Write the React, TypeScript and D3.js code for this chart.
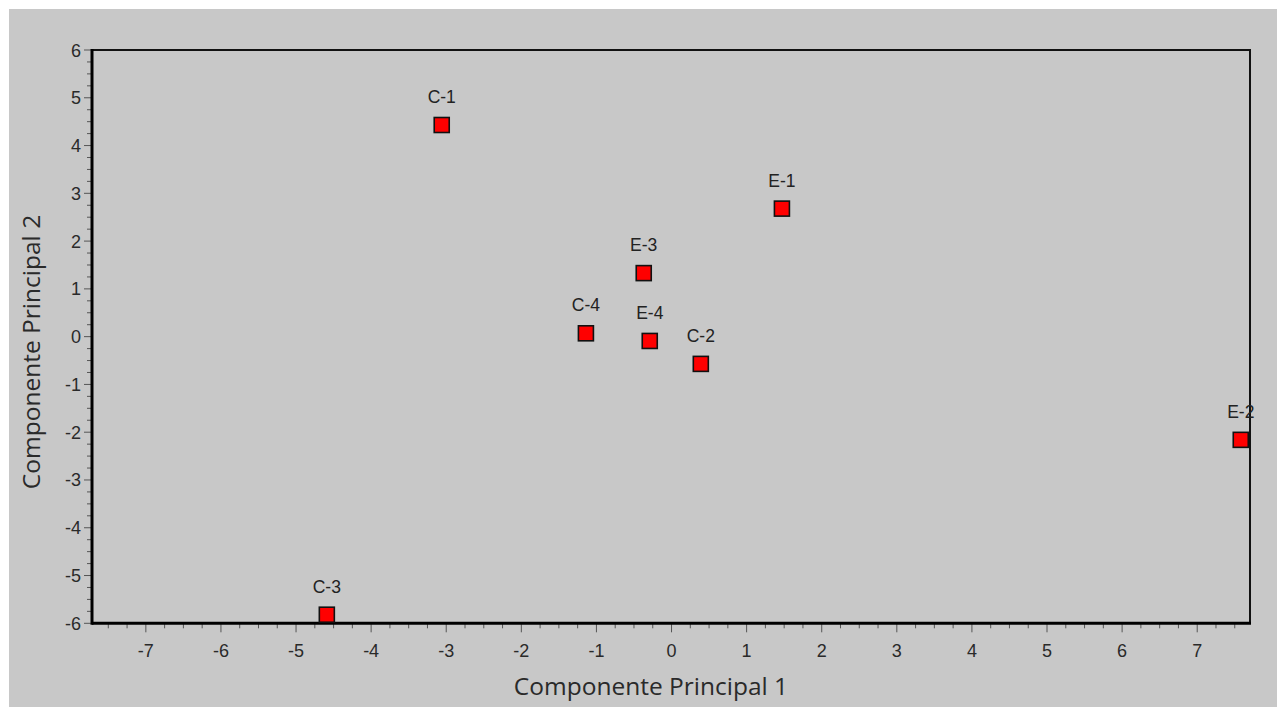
import React, { useEffect, useRef } from 'react';
import * as d3 from 'd3';

// sample names and scores on the first two principal components
const names = ['C-1', 'E-1', 'E-3', 'C-4', 'E-4', 'C-2', 'E-2', 'C-3'];
const pc1 = [-3.06, 1.47, -0.37, -1.14, -0.29, 0.39, 7.58, -4.59];
const pc2 = [4.43, 2.68, 1.33, 0.07, -0.09, -0.57, -2.16, -5.82];

const xTicks = [-7, -6, -5, -4, -3, -2, -1, 0, 1, 2, 3, 4, 5, 6, 7];
const yTicks = [6, 5, 4, 3, 2, 1, 0, -1, -2, -3, -4, -5, -6];

const W = 1277, H = 707;

const App = () => {
  const ref = useRef<SVGSVGElement>(null);

  useEffect(() => {
    const svg = d3.select(ref.current);
    svg.selectAll('*').remove();

    svg.append('rect').attr('width', W).attr('height', H).attr('fill', '#fff');
    svg.append('rect').attr('x', 9).attr('y', 9).attr('width', W - 9).attr('height', H - 9).attr('fill', '#c8c8c8');

    const margin = { left: 92, right: 1250, top: 50, bottom: 623.3 };
    const x = d3.scaleLinear().domain([-7.717, 7.703]).range([margin.left, margin.right]);
    const y = d3.scaleLinear().domain([-6, 6]).range([margin.bottom, margin.top]);

    const tickFont = '"Liberation Sans", Arial, sans-serif';

    // minor ticks every 0.25
    const xMinor = d3.range(-7.75, 7.76, 0.25).filter(v => v >= -7.717 && v <= 7.703 && Math.abs(v - Math.round(v)) > 0.01);
    const yMinor = d3.range(-6, 6.01, 0.25).filter(v => Math.abs(v - Math.round(v)) > 0.01);

    const g = svg.append('g');
    g.selectAll('.xminor').data(xMinor).enter().append('line')
      .attr('x1', d => x(d)).attr('x2', d => x(d))
      .attr('y1', margin.bottom).attr('y2', margin.bottom + 5)
      .attr('stroke', '#555').attr('stroke-width', 1);
    g.selectAll('.xmajor').data(xTicks).enter().append('line')
      .attr('x1', d => x(d)).attr('x2', d => x(d))
      .attr('y1', margin.bottom).attr('y2', margin.bottom + 9)
      .attr('stroke', '#555').attr('stroke-width', 1);
    g.selectAll('.xlab').data(xTicks).enter().append('text')
      .attr('x', d => x(d)).attr('y', 657)
      .attr('text-anchor', 'middle')
      .style('font-family', tickFont).style('font-size', '18px').attr('fill', '#2a2a2a')
      .text(d => String(d));

    g.selectAll('.yminor').data(yMinor).enter().append('line')
      .attr('x1', margin.left - 5).attr('x2', margin.left)
      .attr('y1', d => y(d)).attr('y2', d => y(d))
      .attr('stroke', '#555').attr('stroke-width', 1);
    g.selectAll('.ymajor').data(yTicks).enter().append('line')
      .attr('x1', margin.left - 8).attr('x2', margin.left)
      .attr('y1', d => y(d)).attr('y2', d => y(d))
      .attr('stroke', '#555').attr('stroke-width', 1);
    g.selectAll('.ylab').data(yTicks).enter().append('text')
      .attr('x', 81).attr('y', d => y(d) + 6.5)
      .attr('text-anchor', 'end')
      .style('font-family', tickFont).style('font-size', '18px').attr('fill', '#2a2a2a')
      .text(d => String(d));

    // frame: thin top/right, thick left/bottom
    svg.append('line').attr('x1', margin.left).attr('x2', margin.right).attr('y1', margin.top).attr('y2', margin.top)
      .attr('stroke', '#111').attr('stroke-width', 2);
    svg.append('line').attr('x1', margin.right).attr('x2', margin.right).attr('y1', margin.top - 1).attr('y2', margin.bottom)
      .attr('stroke', '#111').attr('stroke-width', 2);
    svg.append('line').attr('x1', margin.left).attr('x2', margin.left).attr('y1', margin.top - 1).attr('y2', margin.bottom + 1.5)
      .attr('stroke', '#000').attr('stroke-width', 3);
    svg.append('line').attr('x1', margin.left).attr('x2', margin.right + 1).attr('y1', margin.bottom).attr('y2', margin.bottom)
      .attr('stroke', '#000').attr('stroke-width', 3);

    const pts = names.map((n, i) => ({ name: n, a: pc1[i], b: pc2[i] }));
    const pg = svg.append('g');
    pg.selectAll('rect.pt').data(pts).enter().append('rect')
      .attr('class', 'pt')
      .attr('x', d => x(d.a) - 7.5).attr('y', d => y(d.b) - 7.5)
      .attr('width', 15).attr('height', 15)
      .attr('fill', '#ff0000').attr('stroke', '#111').attr('stroke-width', 1.6);
    pg.selectAll('text.lab').data(pts).enter().append('text')
      .attr('class', 'lab')
      .attr('x', d => x(d.a)).attr('y', d => y(d.b) - 22)
      .attr('text-anchor', 'middle')
      .style('font-family', tickFont).style('font-size', '17.5px').attr('fill', '#222')
      .text(d => d.name);

    const titleFont = '"Open Sans", "Noto Sans", sans-serif';
    svg.append('text')
      .attr('x', 651).attr('y', 695)
      .attr('text-anchor', 'middle')
      .style('font-family', titleFont).style('font-size', '24.5px').attr('fill', '#2a2a2a')
      .text('Componente Principal 1');
    svg.append('text')
      .attr('transform', 'translate(40,352) rotate(-90)')
      .attr('text-anchor', 'middle')
      .style('font-family', titleFont).style('font-size', '24.5px').attr('fill', '#2a2a2a')
      .text('Componente Principal 2');
  }, []);

  return (
    <svg ref={ref} width={W} height={H}
      style={{ position: 'absolute', left: 0, top: 0, display: 'block' }} />
  );
};

export default App;
